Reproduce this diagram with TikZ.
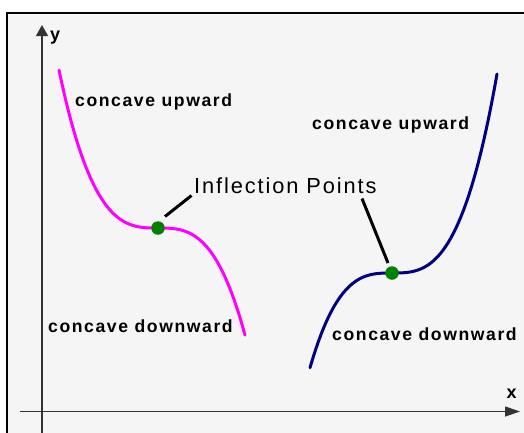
\documentclass[tikz,border=0pt]{standalone}
\usepackage{fontspec}
\usetikzlibrary{arrows.meta}
\newfontfamily\lblfont[LetterSpace=9]{Liberation Sans}
\newfontfamily\inffont[LetterSpace=8.7]{Liberation Sans}
\newfontfamily\axfont{Liberation Sans}
\definecolor{bggray}{HTML}{F5F5F5}
\definecolor{axgray}{HTML}{333333}
\definecolor{pinkc}{HTML}{FF00FF}
\definecolor{navyc}{HTML}{000080}
\definecolor{dotgreen}{HTML}{008000}
\tikzset{
  lbl/.style={anchor=base west, inner sep=0pt, font=\lblfont\bfseries\fontsize{17.6}{20}\selectfont},
  inflbl/.style={anchor=base west, inner sep=0pt, font=\inffont\fontsize{21.8}{25}\selectfont},
  axlbl/.style={anchor=base west, inner sep=0pt, font=\axfont\bfseries\fontsize{18}{20}\selectfont},
  axis/.style={draw=axgray, line width=1.2pt},
  curve/.style={line width=3pt, line cap=round},
  dotp/.style={circle, fill=dotgreen, minimum size=13.5pt, inner sep=0pt},
  leader/.style={draw=black, line width=3pt}
}
\begin{document}
\begin{tikzpicture}[x=1pt, y=-1pt]
\useasboundingbox (0,0) rectangle (524,432);
\clip (0,0) rectangle (524,432);
% frame
\draw[fill=bggray, line width=2pt] (7,12.5) rectangle (540,445);
% axes
\coordinate (ybot) at (42,440);
\coordinate (ytop) at (42,25);
\coordinate (xl) at (20,411.5);
\coordinate (xr) at (520,411.5);
\draw[axis, -{Triangle[length=11pt,width=12pt]}] (ybot) -- (ytop);
\draw[axis, -{Triangle[length=15pt,width=10pt]}] (xl) -- (xr);
\node[axlbl] (ylab) at (50,40.5) {y};
\node[axlbl] (xlab) at (506.5,398.5) {x};
% curves
\draw[curve, pinkc] plot[domain=-99:87, samples=120, smooth] ({158+\x}, {228+0.1628*(\x/10)^3});
\draw[curve, navyc] plot[domain=-82:105, samples=120, smooth] ({392+\x}, {273-0.1719*(\x/10)^3});
% inflection points
\node[dotp] (ipL) at (158,228) {};
\node[dotp] (ipR) at (392,273) {};
% labels
\node[lbl] (cuL) at (75,106.7) {concave upward};
\node[lbl] (cdL) at (48,332.7) {concave downward};
\node[lbl] (cuR) at (312,129.7) {concave upward};
\node[lbl] (cdR) at (332,340.7) {concave downward};
\node[inflbl] (infl) at (194,193.3) {Inflection Points};
% leaders
\coordinate (lA) at (165,216.5);
\coordinate (lB) at (191.5,195.5);
\coordinate (rA) at (388,263);
\coordinate (rB) at (362,198.5);
\draw[leader] (lA) -- (lB);
\draw[leader] (rA) -- (rB);
\end{tikzpicture}
\end{document}
